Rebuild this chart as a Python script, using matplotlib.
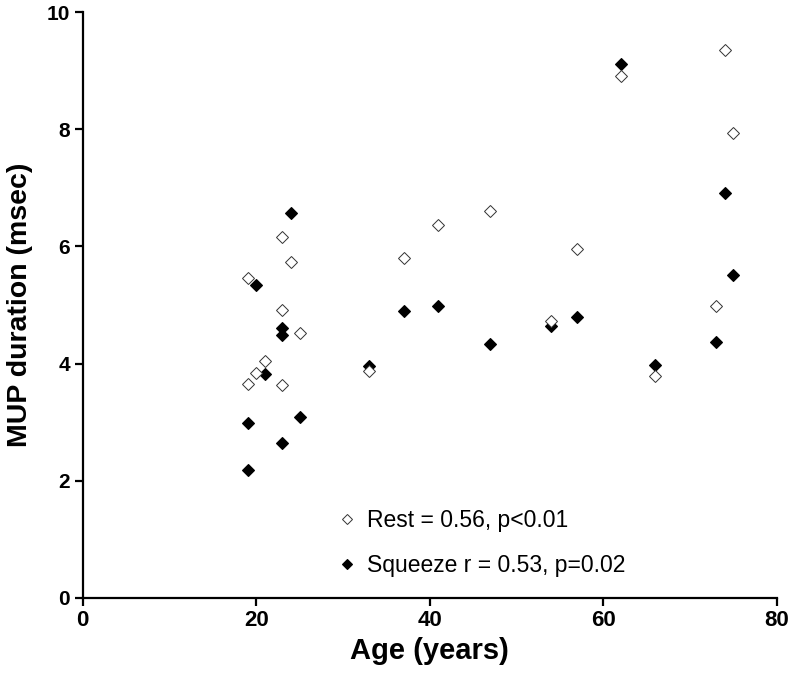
import matplotlib.pyplot as plt
import numpy as np

# ages and MUP durations
rest_age = [19, 19, 20, 21, 23, 23, 23, 24, 25,
            33, 37, 41, 47, 54, 57, 62, 66, 73, 74, 75]
rest_dur = [5.46, 3.65, 3.84, 4.05, 6.17, 4.92, 3.63, 5.74, 4.53,
            3.87, 5.81, 6.36, 6.61, 4.73, 5.96, 8.91, 3.79, 4.98, 9.36, 7.93]

squeeze_age = [19, 19, 20, 21, 23, 23, 23, 24, 25,
               33, 37, 41, 47, 54, 57, 62, 66, 73, 74, 75]
squeeze_dur = [2.99, 2.19, 5.34, 3.82, 4.60, 4.49, 2.65, 6.58, 3.08,
               3.96, 4.90, 4.99, 4.33, 4.64, 4.79, 9.12, 3.98, 4.37, 6.91, 5.51]

rest_label = 'Rest = 0.56, p<0.01'
squeeze_label = 'Squeeze r = 0.53, p=0.02'

plt.rcParams['font.family'] = ['Liberation Sans', 'DejaVu Sans']

fig = plt.figure(figsize=(7.93, 6.79), dpi=100)
ax = fig.add_axes([0.1043, 0.1197, 0.8751, 0.8622])

ax.plot(rest_age, rest_dur, linestyle='none', marker='D', ms=6.6,
        mfc='white', mec='#333333', mew=0.7, label=rest_label, zorder=3)
ax.plot(squeeze_age, squeeze_dur, linestyle='none', marker='D', ms=6.6,
        mfc='black', mec='black', mew=0.8, label=squeeze_label, zorder=2)

ax.set_xlim(0, 80)
ax.set_ylim(0, 10)
ax.set_xticks(np.arange(0, 81, 20))
ax.set_yticks(np.arange(0, 11, 2))

for s in ['top', 'right']:
    ax.spines[s].set_visible(False)
for s in ['left', 'bottom']:
    ax.spines[s].set_linewidth(1.6)
ax.tick_params(direction='out', length=5.5, width=1.6)

for t in ax.get_xticklabels():
    t.set_family(['Liberation Sans Narrow', 'Liberation Sans'])
    t.set_fontweight('bold')
    t.set_fontsize(16)
for t in ax.get_yticklabels():
    t.set_fontweight('bold')
    t.set_fontsize(15)

ax.set_xlabel('Age (years)', fontsize=21, fontweight='bold', labelpad=4)
ax.set_ylabel('MUP duration (msec)', fontsize=20.5, fontweight='bold', labelpad=10)

leg = ax.legend(loc='lower left', bbox_to_anchor=(0.355, 0.02), frameon=False,
                fontsize=16.5, handlelength=0.8, handletextpad=0.45,
                labelspacing=0.95, borderaxespad=0, markerscale=0.8)

fig.savefig('out.png', dpi=100)
